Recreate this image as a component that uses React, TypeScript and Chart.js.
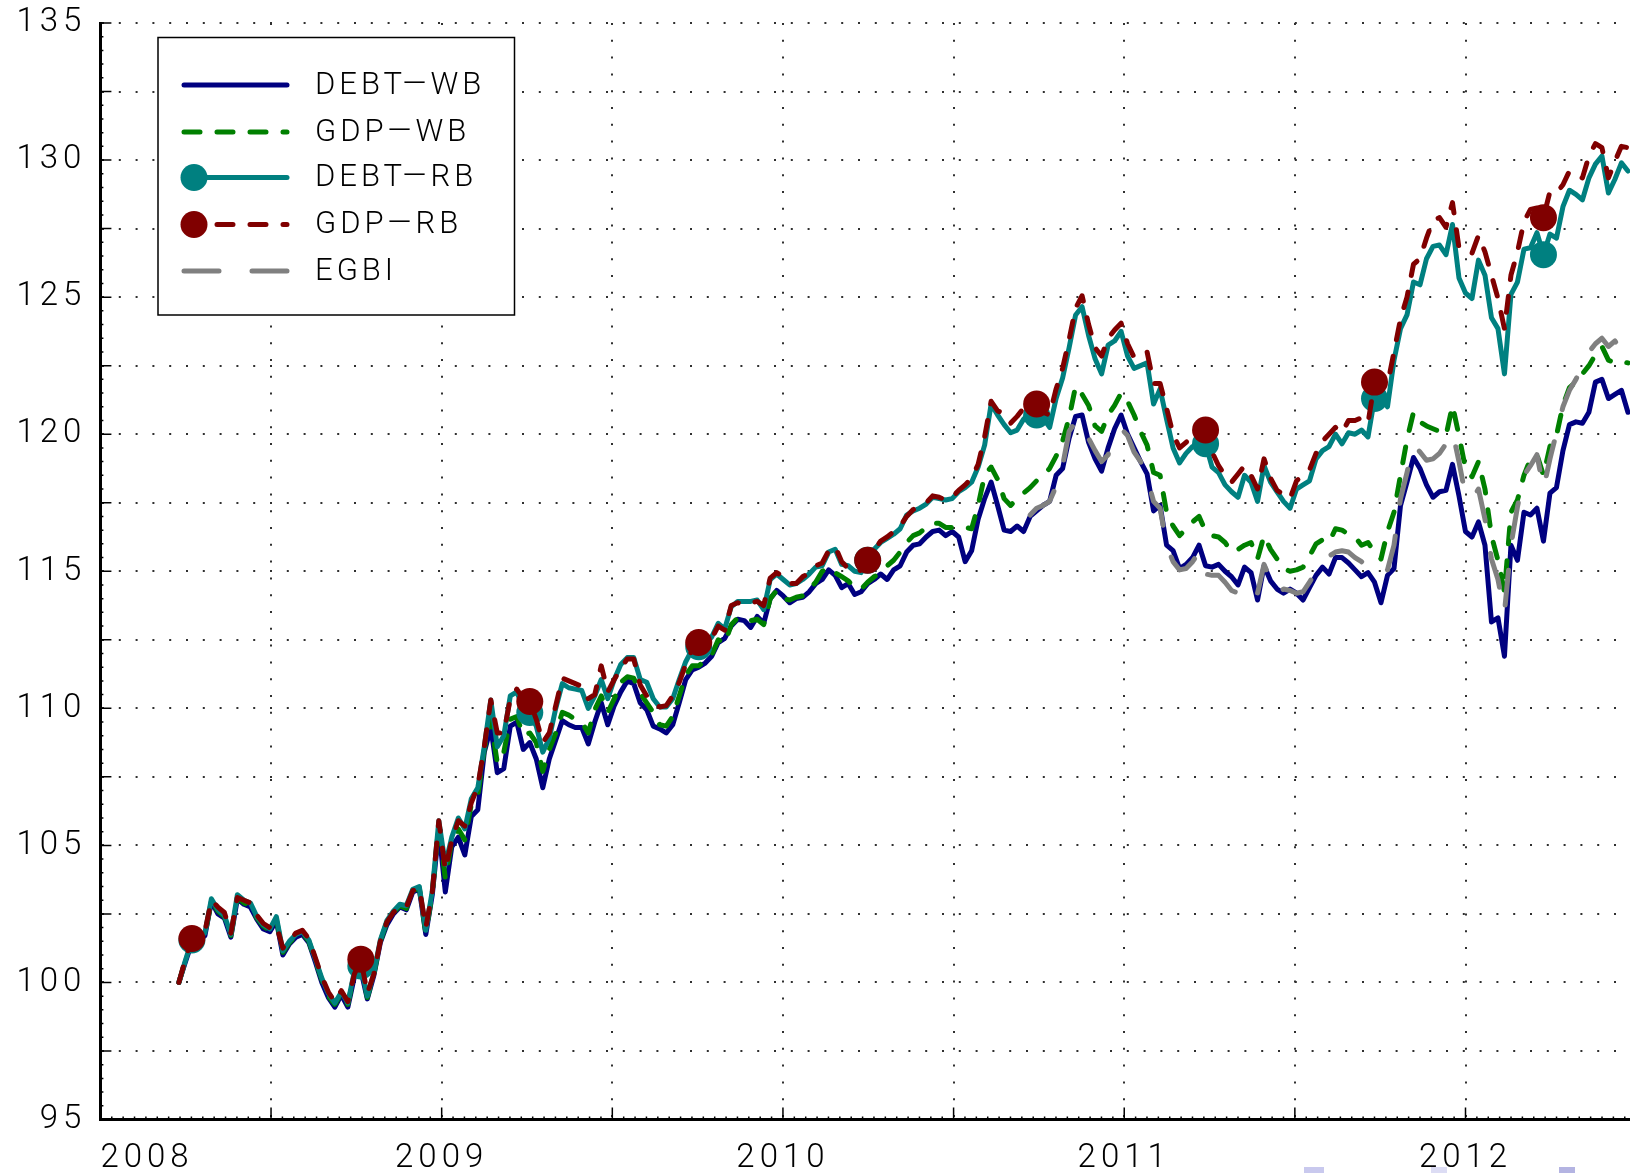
import React, { useEffect, useRef } from 'react';
import { Chart, registerables } from 'chart.js';

Chart.register(...registerables);

// Weekly observations; the first week falls at about 2008.23 (decimal years)
const FIRST_WEEK = 2008.23;
const WEEK_IN_YEARS = 0.01904;

const debtWB: number[] = [
  100.0, 100.75, 101.45, 101.6, 101.7, 102.95, 102.5, 102.35, 101.65, 103.05,
  102.85, 102.75, 102.3, 101.95, 101.85, 102.25, 101.0, 101.4, 101.65, 101.75,
  101.45, 100.75, 100.0, 99.45, 99.1, 99.55, 99.1, 100.2, 100.45, 99.4,
  100.25, 101.45, 102.1, 102.5, 102.75, 102.65, 103.3, 103.4, 101.75, 103.2,
  105.6, 103.3, 104.95, 105.3, 104.65, 106.05, 106.3, 108.4, 109.3, 107.65,
  107.8, 109.35, 109.5, 108.5, 108.75, 108.15, 107.1, 108.15, 108.85, 109.55,
  109.4, 109.3, 109.3, 108.7, 109.5, 110.2, 109.4, 110.1, 110.6, 111.0,
  110.9, 110.2, 109.95, 109.35, 109.25, 109.1, 109.4, 110.2, 111.05, 111.4,
  111.5, 111.65, 111.9, 112.4, 112.55, 113.0, 113.25, 113.2, 112.95, 113.35,
  113.1, 114.0, 114.3, 114.1, 113.85, 114.0, 114.05, 114.25, 114.55, 114.7,
  115.05, 114.85, 114.4, 114.55, 114.15, 114.25, 114.55, 114.7, 114.9, 114.7,
  115.05, 115.2, 115.7, 115.95, 116.0, 116.25, 116.45, 116.5, 116.3, 116.45,
  116.25, 115.35, 115.75, 116.9, 117.65, 118.25, 117.4, 116.5, 116.45, 116.65,
  116.45, 117.0, 117.2, 117.4, 117.55, 118.5, 118.75, 119.85, 120.65, 120.7,
  119.7, 119.1, 118.65, 119.5, 120.2, 120.7, 120.0, 119.5, 119.0, 118.55,
  117.2, 117.4, 115.95, 115.75, 115.1, 115.25, 115.5, 115.95, 115.2, 115.15,
  115.25, 115.0, 114.8, 114.5, 115.15, 114.95, 113.95, 115.2, 114.65, 114.35,
  114.2, 114.35, 114.2, 113.95, 114.4, 114.85, 115.15, 114.9, 115.5, 115.5,
  115.3, 115.05, 114.8, 114.95, 114.6, 113.85, 114.85, 115.1, 117.4, 118.25,
  119.15, 118.75, 118.15, 117.7, 117.9, 117.95, 118.9, 117.75, 116.45, 116.25,
  116.8, 115.95, 113.15, 113.3, 111.9, 115.95, 115.4, 117.15, 117.05, 117.3,
  116.1, 117.85, 118.05, 119.4, 120.35, 120.45, 120.4, 120.8, 121.9, 122.0,
  121.3, 121.45, 121.6, 120.8,
];

const gdpWB: number[] = [
  100.0, 100.8, 101.5, 101.65, 101.75, 102.95, 102.6, 102.4, 101.7, 103.1,
  102.9, 102.8, 102.35, 102.05, 101.9, 102.3, 101.1, 101.45, 101.7, 101.8,
  101.5, 100.8, 100.1, 99.5, 99.2, 99.6, 99.2, 100.3, 100.55, 99.45,
  100.3, 101.5, 102.2, 102.55, 102.8, 102.7, 103.35, 103.45, 101.8, 103.25,
  105.75, 103.8, 105.15, 105.6, 105.2, 106.5, 106.8, 108.5, 109.6, 108.0,
  108.4, 109.6, 109.7, 109.0, 109.1, 108.75, 107.7, 108.5, 109.1, 109.85,
  109.75, 109.6, 109.5, 109.1, 109.95, 110.45, 109.85, 110.35, 110.95, 111.15,
  111.1, 110.55, 110.2, 109.85, 109.4, 109.35, 109.7, 110.45, 111.2, 111.55,
  111.55, 111.75, 111.95, 112.5, 112.35, 113.05, 113.3, 113.3, 113.2, 113.25,
  113.05, 114.0, 114.3, 114.0, 113.95, 114.05, 114.1, 114.35, 114.6, 115.0,
  115.15, 114.95, 114.8, 114.65, 114.4, 114.35, 114.6, 114.8, 114.95, 115.2,
  115.4, 115.7, 116.05, 116.3, 116.4, 116.6, 116.75, 116.75, 116.6, 116.6,
  116.6, 116.6, 116.55, 117.4, 118.5, 118.8, 118.35, 117.65, 117.4, 117.65,
  117.85, 118.05, 118.3, 118.5, 118.75, 119.2, 119.75, 120.6, 121.75, 121.45,
  121.05, 120.3, 120.1, 120.7, 121.05, 121.5, 121.2, 120.7, 120.1, 119.6,
  118.6, 118.5, 117.15, 116.65, 116.3, 116.55, 116.8, 117.0, 116.45, 116.3,
  116.25, 116.05, 115.7, 115.8, 115.95, 116.05, 115.45, 116.3, 115.8, 115.45,
  115.1, 115.0, 115.05, 115.15, 115.55, 116.0, 116.15, 116.05, 116.55, 116.5,
  116.35, 116.25, 115.95, 116.05, 115.7, 115.45, 116.45, 117.15, 118.5, 119.8,
  120.8, 120.45, 120.3, 120.2, 120.1, 119.95, 121.05, 119.95, 118.75, 118.45,
  119.0, 118.0, 116.3, 115.4, 114.25, 117.15, 117.6, 118.5, 119.1, 119.25,
  118.5, 119.55, 119.95, 121.05, 121.7, 121.9, 122.2, 122.5, 122.9, 123.2,
  122.7, 122.6, 122.65, 122.6,
];

const debtRB: number[] = [
  100.0, 100.8, 101.55, 101.7, 101.8, 103.05, 102.65, 102.45, 101.75, 103.2,
  103.0, 102.9, 102.4, 102.1, 101.95, 102.4, 101.15, 101.5, 101.75, 101.85,
  101.55, 100.85, 100.15, 99.6, 99.25, 99.65, 99.25, 100.4, 100.6, 99.5,
  100.35, 101.55, 102.25, 102.6, 102.85, 102.8, 103.4, 103.5, 101.9, 103.35,
  105.9, 104.3, 105.3, 106.0, 105.6, 106.7, 107.1, 108.6, 110.3, 108.6,
  109.0, 110.45, 110.6, 110.0, 109.85, 109.35, 108.4, 108.9, 110.0, 110.9,
  110.75, 110.7, 110.65, 110.0, 110.45, 111.05, 110.35, 111.05, 111.6, 111.85,
  111.85, 111.05, 110.95, 110.35, 110.05, 110.05, 110.35, 111.05, 111.7, 112.15,
  112.25, 112.35, 112.6, 113.1, 112.9, 113.7, 113.9, 113.9, 113.9, 113.95,
  113.6, 114.7, 114.9, 114.7, 114.5, 114.55, 114.7, 114.9, 115.15, 115.2,
  115.7, 115.8, 115.25, 115.2, 115.0, 114.95, 115.4, 115.8, 116.05, 116.2,
  116.35, 116.55, 117.05, 117.2, 117.3, 117.45, 117.7, 117.65, 117.6, 117.65,
  117.9, 118.05, 118.25, 118.8, 119.6, 121.1, 120.7, 120.35, 120.05, 120.15,
  120.55, 120.8, 120.7, 120.6, 120.25, 121.3, 122.05, 123.15, 124.35, 124.65,
  123.6, 122.75, 122.2, 123.25, 123.4, 123.75, 122.85, 122.4, 122.5, 122.6,
  121.1, 121.65, 120.55, 119.5, 118.95, 119.3, 119.55, 119.7, 119.65, 118.8,
  118.6, 118.15, 117.9, 117.7, 118.5, 118.25, 117.55, 118.85, 118.25, 117.9,
  117.55, 117.3, 118.0, 118.15, 118.3, 119.1, 119.4, 119.55, 120.0, 119.65,
  120.05, 120.0, 120.15, 119.9, 121.3, 121.35, 121.0, 122.7, 123.85, 124.35,
  125.55, 125.45, 126.4, 126.85, 126.9, 126.55, 127.65, 125.7, 125.15, 124.95,
  126.35, 125.8, 124.25, 123.85, 122.2, 125.1, 125.55, 126.75, 126.8, 127.35,
  126.55, 127.3, 127.15, 128.3, 128.9, 128.75, 128.55, 129.35, 129.85, 130.15,
  128.8, 129.3, 129.9, 129.6,
];

const gdpRB: number[] = [
  100.0, 100.85, 101.6, 101.75, 101.85, 103.0, 102.75, 102.55, 101.8, 103.1,
  103.0, 102.9, 102.45, 102.15, 102.0, 102.1, 101.25, 101.55, 101.8, 101.9,
  101.6, 100.9, 100.2, 99.65, 99.3, 99.7, 99.3, 100.3, 100.85, 99.6,
  100.3, 101.5, 102.2, 102.55, 102.8, 102.75, 103.35, 103.45, 102.0, 103.3,
  105.9, 104.1, 105.2, 105.9, 105.7, 106.55, 107.15, 108.6, 110.3, 109.1,
  109.1, 110.35, 110.7, 110.35, 110.25, 109.6, 108.75, 109.1, 110.1, 111.1,
  111.0, 110.9, 110.8, 110.35, 110.5, 111.55, 110.6, 111.05, 111.45, 111.8,
  111.8, 110.85, 110.45, 110.2, 110.05, 110.1, 110.45, 110.95, 111.6, 112.15,
  112.4, 112.4, 112.55, 113.0, 112.85, 113.75, 113.85, 113.8, 113.85, 113.9,
  113.75, 114.75, 114.95, 114.8, 114.55, 114.55, 114.8, 114.95, 115.2, 115.3,
  115.75, 115.9, 115.35, 115.1, 114.95, 115.05, 115.4, 115.8, 116.1, 116.25,
  116.45, 116.65, 117.0, 117.25, 117.35, 117.5, 117.75, 117.7, 117.6, 117.7,
  117.95, 118.15, 118.4, 118.9, 119.9, 121.2, 120.85, 120.75, 120.4, 120.65,
  120.95, 121.1, 121.1, 120.8, 120.7, 121.65, 122.4, 123.45, 124.6, 125.05,
  124.0, 123.15, 122.85, 123.5, 123.8, 124.05, 123.3, 122.8, 122.95, 123.0,
  121.85, 121.85, 120.95, 120.0, 119.5, 119.7, 119.9, 120.1, 120.15, 119.35,
  118.85, 118.5, 118.25, 118.55, 118.85, 118.5, 118.0, 119.1, 118.4, 117.95,
  117.8, 117.65, 118.3, 118.5, 118.7, 119.3, 119.75, 120.0, 120.25, 120.05,
  120.5, 120.5, 120.6, 120.4, 121.9, 122.05, 121.8, 123.0, 124.2, 125.0,
  126.2, 126.4, 127.15, 127.8, 127.9, 127.55, 128.45, 126.8, 126.65, 126.6,
  127.25, 126.65, 125.8, 124.95, 123.85, 125.8, 126.65, 127.75, 128.2, 128.25,
  127.9, 128.85, 128.8, 129.1, 129.6, 129.45, 129.35, 130.15, 130.6, 130.45,
  129.35, 129.95, 130.5, 130.45,
];

// EGBI is only plotted from week 131 onwards
const EGBI_FIRST_WEEK = 131;
const egbi: number[] = [
  117.05, 117.3, 117.4, 117.55, 118.1, 118.85, 120.1, 120.45, 120.5,
  119.85, 119.4, 119.0, 119.25, 119.85, 120.2, 119.95, 119.35, 119.0, 118.4,
  117.55, 117.3, 115.95, 115.35, 115.05, 115.1, 115.35, 115.7, 114.9, 114.85,
  114.85, 114.6, 114.3, 114.2, 114.55, 114.55, 114.2, 115.25, 114.7, 114.2,
  114.35, 114.3, 114.2, 114.25, 114.6, 115.0, 115.4, 115.55, 115.7, 115.75,
  115.7, 115.5, 115.35, 115.2, 114.9, 114.85, 115.05, 115.95, 117.65, 118.6,
  119.6, 119.35, 119.05, 119.1, 119.3, 119.65, 120.1, 119.0, 117.75, 117.6,
  118.0, 116.9, 115.45, 114.7, 113.5, 115.95, 117.35, 118.5, 118.85, 119.25,
  118.0, 119.1, 120.05, 121.0, 121.6, 122.0, 122.5, 123.0, 123.3, 123.5,
  123.2, 123.4, 123.1, 123.0,
];

// Weeks carrying a round marker on the RB series
const markerWeeks = [2, 28, 54, 80, 106, 132, 158, 184, 210];

const yearTickLabels = [2008, 2009, 2010, 2011, 2012];

const X_MIN = 2008;
const X_MAX = 2012.482;
const X_GRID_STEP = 0.5;
const X_MINOR_PER_GRID = 15;
const Y_MIN = 95;
const Y_MAX = 135;
const Y_GRID_STEP = 2.5;
const Y_LABEL_STEP = 5;
const Y_MINOR_PER_GRID = 5;

const NAVY = '#000080';
const GREEN = '#008000';
const TEAL = '#008080';
const MAROON = '#800000';
const GREY = '#808080';
const SHORT_DASH = [16, 17];
const LONG_DASH = [35, 33];
const LINE_W = 5;
const MARKER_R = 13.5;
const FONT_FAMILY = "Roboto, 'Liberation Sans', Arial, sans-serif";

const legendItems = [
  { label: 'DEBT\u2014WB', color: NAVY, dash: [] as number[], marker: false },
  { label: 'GDP\u2014WB', color: GREEN, dash: SHORT_DASH, marker: false },
  { label: 'DEBT\u2014RB', color: TEAL, dash: [] as number[], marker: true },
  { label: 'GDP\u2014RB', color: MAROON, dash: SHORT_DASH, marker: true },
  { label: 'EGBI', color: GREY, dash: LONG_DASH, marker: false },
];

const weekX = debtWB.map((_, i) => FIRST_WEEK + i * WEEK_IN_YEARS);
const toPoints = (vals: number[], offset = 0) => vals.map((y, k) => ({ x: weekX[offset + k], y }));
const near = (v: number, step: number) => Math.abs(v / step - Math.round(v / step)) < 1e-6;

const letterSpacingPlugin = {
  id: 'letterSpacing',
  beforeDraw(chart: any) {
    chart.ctx.letterSpacing = '5px';
  },
  afterDraw(chart: any) {
    chart.ctx.letterSpacing = '0px';
  },
};

const innerTicksPlugin = {
  id: 'innerTicks',
  afterDraw(chart: any) {
    const { ctx, chartArea: a, scales } = chart;
    const xs = scales.x;
    const ys = scales.y;
    ctx.save();
    ctx.strokeStyle = '#000';
    ctx.lineWidth = 1.5;
    ctx.setLineDash([]);
    ctx.beginPath();
    const yMinor = Y_GRID_STEP / Y_MINOR_PER_GRID;
    const nY = Math.round((Y_MAX - Y_MIN) / yMinor);
    for (let k = 1; k <= nY; k++) {
      const y = ys.getPixelForValue(Y_MIN + k * yMinor);
      const len = k % Y_MINOR_PER_GRID === 0 ? 11 : 3;
      ctx.moveTo(a.left, y);
      ctx.lineTo(a.left + len, y);
    }
    const xMinor = X_GRID_STEP / X_MINOR_PER_GRID;
    const nX = Math.floor((X_MAX - X_MIN) / xMinor);
    for (let k = 1; k <= nX; k++) {
      const x = xs.getPixelForValue(X_MIN + k * xMinor);
      const len = k % X_MINOR_PER_GRID === 0 ? 12 : 3;
      ctx.moveTo(x, a.bottom);
      ctx.lineTo(x, a.bottom - len);
    }
    ctx.stroke();
    // cropped fragments visible along the lower edge of the original picture
    ctx.fillStyle = '#c9c9ee';
    ctx.fillRect(1304, 1167, 20, 6);
    ctx.fillStyle = '#dcdcf4';
    ctx.fillRect(1431, 1167, 16, 6);
    ctx.fillStyle = '#b4b4e2';
    ctx.fillRect(1559, 1167, 16, 6);
    ctx.restore();
  },
};

const boxLegendPlugin = {
  id: 'boxLegend',
  afterDraw(chart: any) {
    const ctx = chart.ctx;
    const box = { left: 158, top: 37.5, right: 514.5, bottom: 315 };
    const rowsY = [85, 132, 177.5, 224.5, 271];
    const lineX0 = 184;
    const lineX1 = 287;
    const textX = 315;
    ctx.save();
    ctx.fillStyle = '#fff';
    ctx.fillRect(box.left, box.top, box.right - box.left, box.bottom - box.top);
    ctx.strokeStyle = '#000';
    ctx.lineWidth = 1.5;
    ctx.setLineDash([]);
    ctx.strokeRect(box.left, box.top, box.right - box.left, box.bottom - box.top);
    legendItems.forEach((item, k) => {
      const y = rowsY[k];
      ctx.strokeStyle = item.color;
      ctx.lineWidth = LINE_W;
      ctx.lineCap = 'round';
      ctx.setLineDash(item.dash);
      ctx.beginPath();
      ctx.moveTo(lineX0, y);
      ctx.lineTo(lineX1, y);
      ctx.stroke();
      ctx.setLineDash([]);
      if (item.marker) {
        ctx.fillStyle = item.color;
        ctx.beginPath();
        ctx.arc(194, y, MARKER_R, 0, Math.PI * 2);
        ctx.fill();
      }
      ctx.fillStyle = '#000';
      ctx.font = `300 31px ${FONT_FAMILY}`;
      ctx.letterSpacing = '4px';
      ctx.textAlign = 'left';
      ctx.textBaseline = 'middle';
      ctx.fillText(item.label, textX, y + 1);
    });
    ctx.restore();
  },
};

const markerRadius = (c: any) => (markerWeeks.includes(c.dataIndex) ? MARKER_R : 0);

export default function App() {
  const ref = useRef<HTMLCanvasElement>(null);
  useEffect(() => {
    document.body.style.margin = '0';
    const tickFont = { family: FONT_FAMILY, size: 33, weight: '300' as any };
    const lineBase = { tension: 0, borderWidth: LINE_W, borderJoinStyle: 'round' as const, borderCapStyle: 'round' as const, fill: false };
    const chart = new Chart(ref.current as HTMLCanvasElement, {
      type: 'line',
      data: {
        datasets: [
          { ...lineBase, label: 'DEBT-WB', data: toPoints(debtWB), borderColor: NAVY, pointRadius: 0, order: 4 },
          { ...lineBase, label: 'GDP-WB', data: toPoints(gdpWB), borderColor: GREEN, borderDash: SHORT_DASH, pointRadius: 0, order: 3 },
          { ...lineBase, label: 'DEBT-RB', data: toPoints(debtRB), borderColor: TEAL, pointRadius: markerRadius, pointBackgroundColor: TEAL, pointBorderWidth: 0, pointHoverRadius: 0, order: 2 },
          { ...lineBase, label: 'GDP-RB', data: toPoints(gdpRB), borderColor: MAROON, borderDash: SHORT_DASH, pointRadius: markerRadius, pointBackgroundColor: MAROON, pointBorderWidth: 0, pointHoverRadius: 0, order: 1 },
          { ...lineBase, label: 'EGBI', data: toPoints(egbi, EGBI_FIRST_WEEK), borderColor: GREY, borderDash: LONG_DASH, pointRadius: 0, order: 0 },
        ] as any,
      },
      options: {
        animation: false,
        responsive: false,
        devicePixelRatio: 1,
        events: [],
        layout: { padding: { top: 23, right: 0, left: 0, bottom: 0 } },
        plugins: { legend: { display: false }, tooltip: { enabled: false } },
        scales: {
          x: {
            type: 'linear',
            min: X_MIN,
            max: X_MAX,
            afterBuildTicks: (s: any) => {
              s.ticks.push({ value: X_MAX });
            },
            afterFit: (s: any) => {
              s.height = 53.5;
              s.paddingLeft = 0;
              s.paddingRight = 0;
            },
            ticks: {
              stepSize: X_GRID_STEP,
              includeBounds: false,
              autoSkip: false,
              maxRotation: 0,
              minRotation: 0,
              align: 'inner',
              padding: 19,
              color: '#000',
              font: tickFont,
              callback: (v: any) => {
                const n = Number(v);
                return near(n, 1) && yearTickLabels.includes(Math.round(n)) ? String(Math.round(n)) : '';
              },
            },
            grid: {
              drawTicks: false,
              lineWidth: 2,
              color: (c: any) => (c.tick && near(c.tick.value, X_GRID_STEP) && c.tick.value > X_MIN ? '#303030' : 'rgba(0,0,0,0)'),
            },
            border: { display: true, color: '#000', width: 3, dash: [2, 14.8] },
          },
          y: {
            type: 'linear',
            min: Y_MIN,
            max: Y_MAX,
            afterFit: (s: any) => {
              s.width = 100.4;
              s.paddingTop = 0;
              s.paddingBottom = 0;
            },
            ticks: {
              stepSize: Y_GRID_STEP,
              autoSkip: false,
              padding: 14,
              color: '#000',
              font: tickFont,
              callback: (v: any) => (near(Number(v), Y_LABEL_STEP) ? String(Math.round(Number(v))) : ''),
            },
            grid: {
              drawTicks: false,
              lineWidth: 2,
              color: (c: any) => (c.tick && c.tick.value > Y_MIN ? '#303030' : 'rgba(0,0,0,0)'),
            },
            border: { display: true, color: '#000', width: 3, dash: [2, 14.8] },
          },
        },
      } as any,
      plugins: [letterSpacingPlugin, innerTicksPlugin, boxLegendPlugin],
    });
    return () => chart.destroy();
  }, []);
  return (
    <div style={{ position: 'absolute', left: 0, top: 0, width: 1630, height: 1173, background: '#fff' }}>
      <canvas ref={ref} width={1630} height={1173} style={{ display: 'block', width: 1630, height: 1173 }} />
    </div>
  );
}
